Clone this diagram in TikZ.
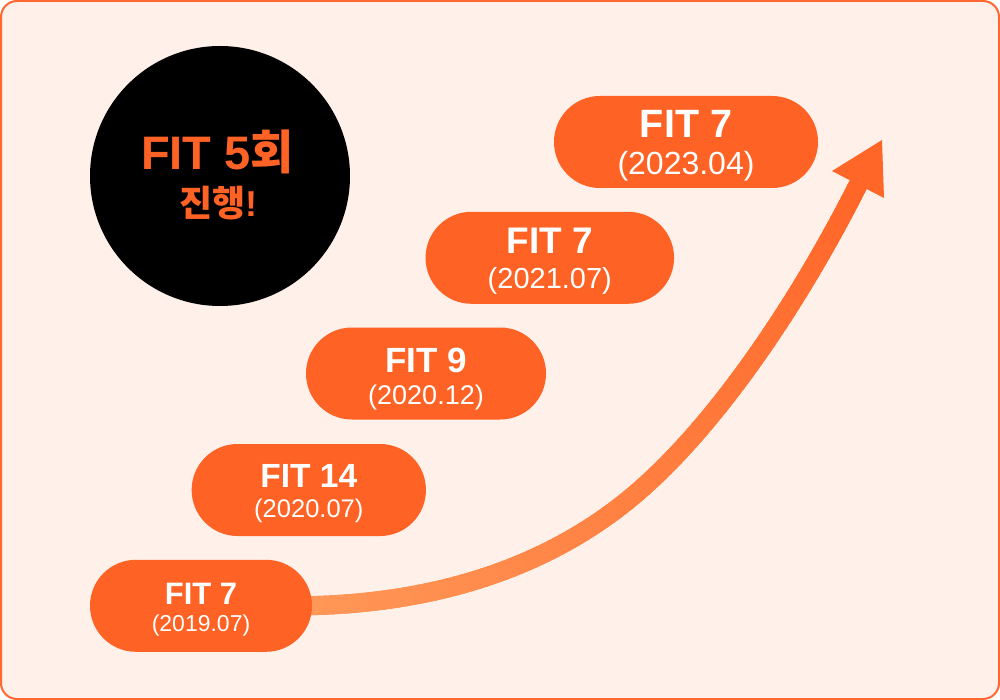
\documentclass[tikz,border=0pt]{standalone}
\usepackage{fontspec}
\setmainfont{Liberation Sans}
\newfontfamily\kr{Noto Sans CJK KR}
\usetikzlibrary{decorations.markings,backgrounds}
\definecolor{bgc}{RGB}{255,240,233}
\definecolor{bord}{RGB}{255,104,48}
\definecolor{pillc}{RGB}{255,98,37}
\definecolor{arrL}{RGB}{255,152,88}
\definecolor{arrD}{RGB}{255,102,40}
\begin{document}
\begin{tikzpicture}[x=1pt,y=-1pt,
  pill/.style={fill=pillc, rounded corners=45.9pt, inner sep=0pt, minimum height=92pt},
  ttl/.style={anchor=base, text=white, inner sep=0pt, font=\bfseries\fontsize{#1}{#1}\selectfont},
  dte/.style={anchor=base, text=white, inner sep=0pt, font=\fontsize{#1}{#1}\selectfont},
  grad/.style={postaction={decorate}, decoration={markings,
    mark=between positions 0 and 1 step 0.01 with {%
      \pgfmathtruncatemacro\pct{max(0,100-(\pgfkeysvalueof{/pgf/decoration/mark info/sequence number}-1))}%
      \draw[line width=19pt, color=arrL!\pct!arrD] (-5pt,0pt) -- (5pt,0pt);}}}
]
\useasboundingbox (0,0) rectangle (1000,700);

% pills
\node[pill, minimum width=222pt] (p1) at (201,605.8) {};
\node[pill, minimum width=234.3pt] (p2) at (308.8,490) {};
\node[pill, minimum width=240pt] (p3) at (426,373.5) {};
\node[pill, minimum width=248.5pt] (p4) at (549.8,257.8) {};
\node[pill, minimum width=264pt] (p5) at (686,142) {};

% background and arrow (behind pills)
\coordinate (hb) at (858,185);
\coordinate (ht) at (882,140);
\coordinate (hl) at (832,171);
\coordinate (hr) at (884,198);
\begin{scope}[on background layer]
\fill[bgc, draw=bord, line width=2pt, rounded corners=16pt] (1,1) rectangle (999,699);
\draw[line width=19pt, arrL, grad] ([xshift=-6pt]p1.east) .. controls (450,603) and (560,560) .. (640,490) .. controls (720,420) and (800,300) .. (hb);
\fill[arrD] (ht) -- (hl) -- (hr) -- cycle;
\end{scope}

% pill texts
\node[ttl=31] (p1t) at (201,604) {FIT 7};
\node[dte=23] (p1d) at (201,631.5) {(2019.07)};
\node[ttl=33.5] (p2t) at (308.8,487) {FIT 14};
\node[dte=25.5] (p2d) at (308.8,517) {(2020.07)};
\node[ttl=35] (p3t) at (426,372.5) {FIT 9};
\node[dte=27] (p3d) at (426,404) {(2020.12)};
\node[ttl=37] (p4t) at (549.8,254) {FIT 7};
\node[dte=29] (p4d) at (549.8,288.5) {(2021.07)};
\node[ttl=39.5] (p5t) at (686,138) {FIT 7};
\node[dte=32] (p5d) at (686,175) {(2023.04)};

% circle
\node[circle, fill=black, minimum size=260pt, inner sep=0pt] (c) at (220,176) {};
\node[anchor=base, text=pillc, inner sep=0pt, font=\bfseries\fontsize{47}{47}\selectfont] (c1) at (217.5,170) {FIT 5{\kr 회}};
\node[anchor=base, text=pillc, inner sep=0pt, font=\bfseries\fontsize{36}{36}\selectfont] (c2) at (218.5,217) {{\kr 진행}!};
\end{tikzpicture}
\end{document}
